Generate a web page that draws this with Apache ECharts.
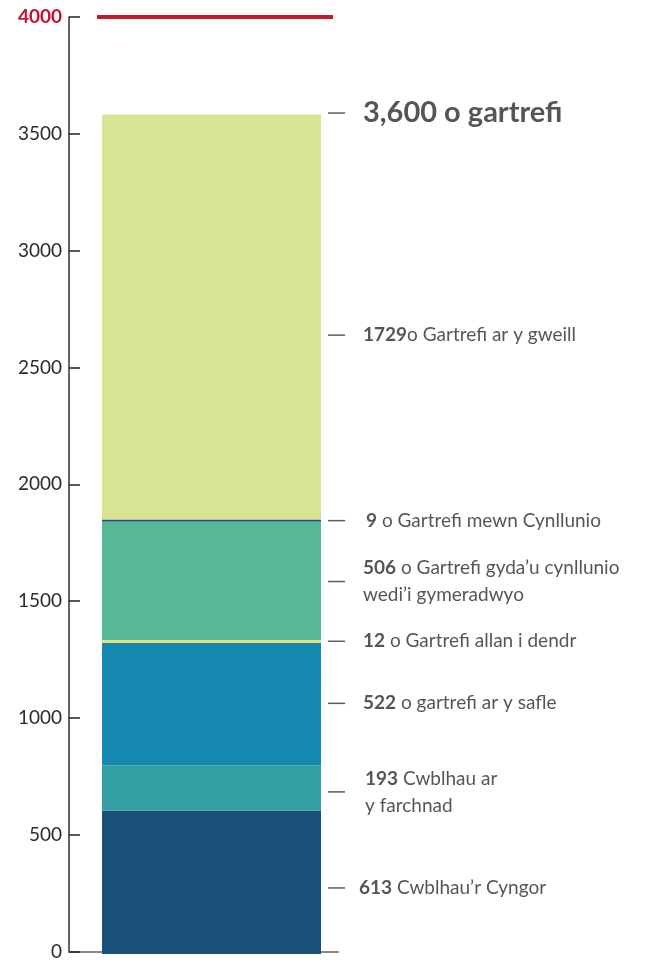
<!DOCTYPE html>
<html><head><meta charset="utf-8">
<script src="https://cdn.jsdelivr.net/npm/echarts@6/dist/echarts.min.js"></script>
<style>html,body{margin:0;padding:0;background:#fff}#c{width:647px;height:961px}</style>
</head><body><div id="c"></div>
<script>
// Segments, bottom to top
const segNumbers = ['613', '193', '522', '12', '506', '9', '1729'];
const segValues = [613, 193, 522, 12, 506, 9, 1729];
const segTexts = [
  ' Cwblhau\u2019r Cyngor',
  ' Cwblhau ar\ny farchnad',
  ' o gartrefi ar y safle',
  ' o Gartrefi allan i dendr',
  ' o Gartrefi gyda\u2019u cynllunio\nwedi\u2019i gymeradwyo',
  ' o Gartrefi mewn Cynllunio',
  'o Gartrefi ar y gweill'
];
const segColors = ['#1b5078', '#35a0a2', '#1589af', '#e6e08a', '#57b899', '#1b4f78', '#d8e394'];
// where each annotation dash sits on the value scale
const labelAnchors = [282, 692, 1070, 1335, 1590, 1850, 2642];
const totalText = '3,600 o gartrefi';
const totalAnchor = 3590;
const targetValue = 4000;
const yTicks = { min: 0, max: 4000, interval: 500 };

const chart = echarts.init(document.getElementById('c'), null, { renderer: 'canvas' });
const FONT = 'Lato';
const TOP = 17, BOTTOM = 7;
const TXT = '#2b2b2b';

const series = segValues.map((v, i) => ({
  type: 'bar', stack: 'total', xAxisIndex: 1, yAxisIndex: 1,
  barWidth: '100%', data: [v],
  itemStyle: { color: segColors[i] }, silent: true
}));

function labelFormatter(num, text) {
  const lines = text.split('\n');
  let s = '{b|' + num + '}';
  s += '{n|' + lines[0] + '}';
  for (let k = 1; k < lines.length; k++) s += '\n{n|' + lines[k] + '}';
  return s;
}

const labelData = labelAnchors.map((a, i) => ({
  value: [0, a],
  label: {
    formatter: labelFormatter(segNumbers[i], segTexts[i]),
    distance: i === 0 ? 14 : (i === 5 ? 21 : (i === 1 ? 20 : 18))
  }
}));
labelData.push({
  value: [0, totalAnchor],
  label: { formatter: '{t|' + totalText + '}', distance: 18 }
});

series.push({
  type: 'scatter', xAxisIndex: 3, yAxisIndex: 3,
  symbol: 'rect', symbolSize: [17, 1.5],
  itemStyle: { color: '#333' }, silent: true,
  data: labelData,
  label: {
    show: true, position: 'right', color: TXT, fontFamily: FONT,
    lineHeight: 27,
    rich: {
      b: { fontWeight: 'bold', fontSize: 19, fontFamily: FONT, color: TXT, lineHeight: 27 },
      n: { fontSize: 19, fontFamily: FONT, color: TXT, lineHeight: 27 },
      t: { fontWeight: 'bold', fontSize: 29, fontFamily: FONT, color: TXT }
    }
  }
});

series.push({
  type: 'line', xAxisIndex: 2, yAxisIndex: 2,
  data: [targetValue, targetValue], symbol: 'none', silent: true,
  lineStyle: { color: '#c41a2a', width: 4 }
});

const hiddenY = { type: 'value', min: yTicks.min, max: yTicks.max, show: false };
const hiddenX = (data, bg) => ({ type: 'category', data: data, show: false, boundaryGap: bg });

chart.setOption({
  animation: false,
  grid: [
    { left: 69, right: 309, top: TOP, bottom: BOTTOM },
    { left: 102, right: 326, top: TOP, bottom: BOTTOM },
    { left: 97, right: 314, top: TOP, bottom: BOTTOM },
    { left: 328, right: 302, top: TOP, bottom: BOTTOM }
  ],
  xAxis: [
    { type: 'category', gridIndex: 0, data: [''],
      axisLine: { show: true, lineStyle: { color: '#888', width: 2 } },
      axisTick: { show: false }, axisLabel: { show: false } },
    Object.assign(hiddenX([''], true), { gridIndex: 1 }),
    Object.assign(hiddenX(['a', 'b'], false), { gridIndex: 2 }),
    Object.assign(hiddenX([''], true), { gridIndex: 3 })
  ],
  yAxis: [
    { type: 'value', gridIndex: 0, min: yTicks.min, max: yTicks.max, interval: yTicks.interval,
      splitLine: { show: false },
      axisLine: { show: true, lineStyle: { color: '#333', width: 1.5 } },
      axisTick: { show: true, inside: true, length: 11, lineStyle: { color: '#222', width: 1.5 } },
      axisLabel: {
        margin: 7, color: TXT, fontSize: 19, fontFamily: FONT,
        formatter: v => v === targetValue ? '{r|' + v + '}' : String(v),
        rich: { r: { color: '#c8102e', fontWeight: 'bold', fontSize: 19, fontFamily: FONT } }
      } },
    Object.assign({}, hiddenY, { gridIndex: 1 }),
    Object.assign({}, hiddenY, { gridIndex: 2 }),
    Object.assign({}, hiddenY, { gridIndex: 3 })
  ],
  series: series
});
</script></body></html>
